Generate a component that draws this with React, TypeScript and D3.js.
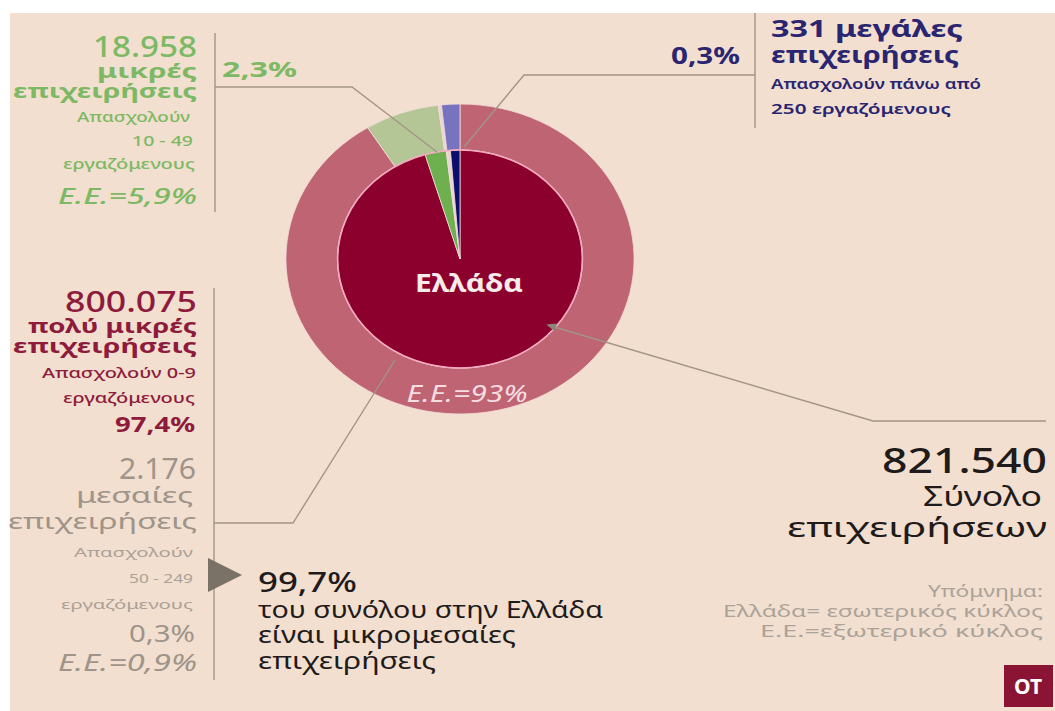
import React from 'react';
import * as d3 from 'd3';

// ---- data ----
const sizeClasses = ['πολύ μικρές', 'μικρές', 'μεσαίες', 'μεγάλες'];
// share of the circle as drawn (inner = Ελλάδα, outer ring = Ε.Ε.)
const greeceArcShare = [95.4, 2.8, 0.55, 1.25];
const euArcShare = [91.1, 6.9, 0.3, 1.7];
const greeceColors = ['#8C002D', '#6EAF50', '#EAD6CE', '#0A0F6E'];
const euColors = ['#BE6473', '#B4C696', '#EAD6CE', '#7873BE'];

const smallText = ['18.958', 'μικρές', 'επιχειρήσεις', 'Απασχολούν', '10 - 49', 'εργαζόμενους', 'Ε.Ε.=5,9%'];
const smallShare = '2,3%';
const largeText = ['331 μεγάλες', 'επιχειρήσεις', 'Απασχολούν πάνω από', '250 εργαζόμενους'];
const largeShare = '0,3%';
const microText = ['800.075', 'πολύ μικρές', 'επιχειρήσεις', 'Απασχολούν 0-9', 'εργαζόμενους', '97,4%'];
const mediumText = ['2.176', 'μεσαίες', 'επιχειρήσεις', 'Απασχολούν', '50 - 249', 'εργαζόμενους', '0,3%', 'Ε.Ε.=0,9%'];
const smeText = ['99,7%', 'του συνόλου στην Ελλάδα', 'είναι μικρομεσαίες', 'επιχειρήσεις'];
const totalText = ['821.540', 'Σύνολο', 'επιχειρήσεων'];
const legendText = ['Υπόμνημα:', 'Ελλάδα= εσωτερικός κύκλος', 'Ε.Ε.=εξωτερικό κύκλος'];
const centerLabel = 'Ελλάδα';
const ringLabel = 'Ε.Ε.=93%';
const logoText = 'OT';

const FONT = "'Noto Sans', 'DejaVu Sans', sans-serif";

type TP = {
  x: number; y: number; s: number; w?: number; c: string; a?: string; it?: boolean; len?: number; children: React.ReactNode;
};
function Txt({ x, y, s, w = 400, c, a = 'start', it = false, len, children }: TP) {
  return (
    <text
      x={x}
      y={y}
      fontSize={s}
      fontWeight={w}
      fill={c}
      textAnchor={a as any}
      fontStyle={it ? 'italic' : 'normal'}
      textLength={len}
      lengthAdjust={len ? 'spacingAndGlyphs' : undefined}
    >
      {children}
    </text>
  );
}

export default function App() {
  const W = 1055, H = 711;
  const cx = 460, cy = 259, sx = 1.123;
  const rIn = 109, rOut = 155;

  const pie = d3.pie<number>().sort(null).value((d) => d);
  const innerArcs = pie(greeceArcShare);
  const outerArcs = pie(euArcShare);
  const arcIn = d3.arc<d3.PieArcDatum<number>>().innerRadius(0).outerRadius(rIn);
  const arcOut = d3.arc<d3.PieArcDatum<number>>().innerRadius(rIn).outerRadius(rOut);

  const green = '#7DB964';
  const navy = '#2A2570';
  const red = '#8E1B3C';
  const grey = '#9E948A';
  const lightGrey = '#ABA197';
  const black = '#1F1B1B';
  const lineC = '#A39585';

  // arrow head at the start of the total leader
  const p0: [number, number] = [873, 421];
  const p1: [number, number] = [551, 326];
  const dx = p1[0] - p0[0], dy = p1[1] - p0[1];
  const L = Math.hypot(dx, dy);
  const ux = dx / L, uy = dy / L;
  const tip = [p1[0] + ux * 5, p1[1] + uy * 5];
  const base = [p1[0] - ux * 5, p1[1] - uy * 5];
  const arrow = `M${tip[0]},${tip[1]}L${base[0] - uy * 4},${base[1] + ux * 4}L${base[0] + uy * 4},${base[1] - ux * 4}Z`;

  return (
    <svg
      width={W}
      height={H}
      style={{ position: 'absolute', left: 0, top: 0, display: 'block' }}
      fontFamily={FONT}
    >
      <rect x={0} y={0} width={W} height={H} fill="#ffffff" />
      <rect x={10} y={13} width={W - 10} height={H - 13} fill="#F2DFCF" />

      {/* pie */}
      <g transform={`translate(${cx},${cy}) scale(${sx},1)`}>
        {outerArcs.map((d, i) => (
          <path key={'o' + i} d={arcOut(d) || ''} fill={euColors[i]} stroke="#F3DCDC" strokeWidth={0.8} vectorEffect="non-scaling-stroke">
            <title>{sizeClasses[i]}</title>
          </path>
        ))}
        {innerArcs.map((d, i) => (
          <path key={'i' + i} d={arcIn(d) || ''} fill={greeceColors[i]} stroke="#F3DCDC" strokeWidth={0.8} vectorEffect="non-scaling-stroke">
            <title>{sizeClasses[i]}</title>
          </path>
        ))}
        <circle r={rIn} fill="none" stroke="#F2A9BE" strokeWidth={1.6} vectorEffect="non-scaling-stroke" />
      </g>

      {/* leader lines */}
      <g fill="none" stroke={lineC} strokeWidth={1.4}>
        <path d="M215,33V212" />
        <path d="M215,87H352L437,152" />
        <path d="M755,13V128" />
        <path d="M464,147L524,75H755" />
        <path d="M214,288V680" />
        <path d="M214,523H293L395,360" />
        <path d={`M${p1[0]},${p1[1]}L${p0[0]},${p0[1]}H1046`} />
      </g>
      <path d={arrow} fill="#8E8478" />
      <path d="M208,558L242,575L208,592Z" fill="#7A7266" />

      {/* pie labels */}
      <Txt x={469} y={292} s={25} w={700} c="#F7EAEA" a="middle" len={108}>{centerLabel}</Txt>
      <Txt x={467} y={402} s={23} c="#F5DDE3" a="middle" it len={121}>{ringLabel}</Txt>

      {/* small firms */}
      <Txt x={197} y={57} s={29} w={500} c={green} a="end" len={104}>{smallText[0]}</Txt>
      <Txt x={197} y={78} s={19} w={700} c={green} a="end" len={100}>{smallText[1]}</Txt>
      <Txt x={197} y={98} s={20} w={700} c={green} a="end" len={184}>{smallText[2]}</Txt>
      <Txt x={190} y={122} s={14} w={500} c={green} a="end" len={113}>{smallText[3]}</Txt>
      <Txt x={193} y={146} s={14} w={500} c={green} a="end" len={61}>{smallText[4]}</Txt>
      <Txt x={195} y={169} s={14} w={500} c={green} a="end" len={132}>{smallText[5]}</Txt>
      <Txt x={197} y={204} s={22} w={500} c={green} a="end" it len={139}>{smallText[6]}</Txt>
      <Txt x={222} y={77} s={22} w={700} c={green} len={75}>{smallShare}</Txt>

      {/* large firms */}
      <Txt x={771} y={37} s={23} w={700} c={navy} len={192}>{largeText[0]}</Txt>
      <Txt x={771} y={63} s={23} w={700} c={navy} len={188}>{largeText[1]}</Txt>
      <Txt x={771} y={89} s={15} w={600} c={navy} len={210}>{largeText[2]}</Txt>
      <Txt x={771} y={114} s={15} w={600} c={navy} len={180}>{largeText[3]}</Txt>
      <Txt x={740} y={64} s={23} w={700} c={navy} a="end" len={69}>{largeShare}</Txt>

      {/* micro firms */}
      <Txt x={197} y={312} s={29} w={500} c={red} a="end" len={132}>{microText[0]}</Txt>
      <Txt x={197} y={333} s={19} w={700} c={red} a="end" len={169}>{microText[1]}</Txt>
      <Txt x={197} y={353} s={20} w={700} c={red} a="end" len={184}>{microText[2]}</Txt>
      <Txt x={196} y={378} s={14} w={500} c={red} a="end" len={154}>{microText[3]}</Txt>
      <Txt x={195} y={403} s={14} w={500} c={red} a="end" len={132}>{microText[4]}</Txt>
      <Txt x={195} y={432} s={21} w={700} c={red} a="end" len={80}>{microText[5]}</Txt>

      {/* medium firms */}
      <Txt x={196} y={479} s={29} c={grey} a="end" len={77}>{mediumText[0]}</Txt>
      <Txt x={193} y={503} s={21} c={grey} a="end" len={117}>{mediumText[1]}</Txt>
      <Txt x={197} y={529} s={21} c={grey} a="end" len={189}>{mediumText[2]}</Txt>
      <Txt x={193} y={557} s={13} c={lightGrey} a="end" len={119}>{mediumText[3]}</Txt>
      <Txt x={193} y={583} s={13} c={lightGrey} a="end" len={64}>{mediumText[4]}</Txt>
      <Txt x={193} y={609} s={13} c={lightGrey} a="end" len={132}>{mediumText[5]}</Txt>
      <Txt x={195} y={642} s={24} c={grey} a="end" len={66}>{mediumText[6]}</Txt>
      <Txt x={197} y={671} s={24} c={grey} a="end" it len={139}>{mediumText[7]}</Txt>

      {/* SMEs note */}
      <Txt x={258} y={592} s={27} w={500} c={black} len={99}>{smeText[0]}</Txt>
      <Txt x={258} y={618} s={23} c={black} len={345}>{smeText[1]}</Txt>
      <Txt x={258} y={643} s={23} c={black} len={258}>{smeText[2]}</Txt>
      <Txt x={258} y={669} s={23} c={black} len={178}>{smeText[3]}</Txt>

      {/* total */}
      <Txt x={1047} y={473} s={35} w={500} c={black} a="end" len={165}>{totalText[0]}</Txt>
      <Txt x={1042} y={506} s={28} c={black} a="end" len={119}>{totalText[1]}</Txt>
      <Txt x={1047} y={537} s={28} c={black} a="end" len={260}>{totalText[2]}</Txt>

      {/* legend */}
      <Txt x={1043} y={597} s={16} c="#ABA39A" a="end" len={115}>{legendText[0]}</Txt>
      <Txt x={1043} y={617} s={16} c="#ABA39A" a="end" len={320}>{legendText[1]}</Txt>
      <Txt x={1043} y={637} s={16} c="#ABA39A" a="end" len={283}>{legendText[2]}</Txt>

      {/* logo */}
      <rect x={1004} y={665} width={49} height={42} fill="#8B1435" />
      <Txt x={1028} y={694} s={21} w={700} c="#FFFFFF" a="middle">{logoText}</Txt>
    </svg>
  );
}
